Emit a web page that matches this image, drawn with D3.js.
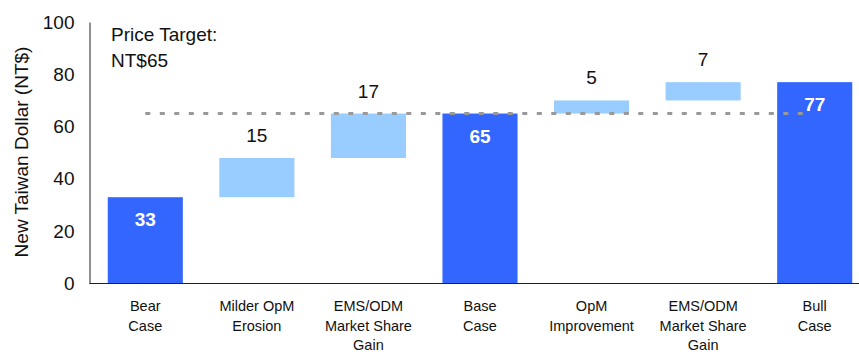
<!DOCTYPE html>
<html>
<head>
<meta charset="utf-8">
<script src="https://cdn.jsdelivr.net/npm/d3@7/dist/d3.min.js"></script>
<style>
  html, body { margin: 0; padding: 0; background: #fff; }
  svg { display: block; font-family: "Liberation Sans", Arial, sans-serif; }
</style>
</head>
<body>
<svg id="chart" width="859" height="352"></svg>
<script>
// Valuation bridge: bear case to bull case, NT$ per share
const categoryLines = [
  ["Bear", "Case"],
  ["Milder OpM", "Erosion"],
  ["EMS/ODM", "Market Share", "Gain"],
  ["Base", "Case"],
  ["OpM", "Improvement"],
  ["EMS/ODM", "Market Share", "Gain"],
  ["Bull", "Case"]
];
const values = [33, 15, 17, 65, 5, 7, 77];
const kinds = ["total", "step", "step", "total", "step", "step", "total"];
const yTicks = [0, 20, 40, 60, 80, 100];
const priceTarget = 65;
const annotationLines = ["Price Target:", "NT$65"];
const yTitle = "New Taiwan Dollar (NT$)";

const colors = { total: "#3366FF", step: "#99CCFF" };

// Running start/end for each bar of the bridge
let running = 0;
const bars = values.map((v, i) => {
  let y0, y1;
  if (kinds[i] === "total") { y0 = 0; y1 = v; running = v; }
  else { y0 = running; y1 = running + v; running = y1; }
  return { i, value: v, kind: kinds[i], y0, y1 };
});

const svg = d3.select("#chart");
const plotLeft = 89.5, plotRight = 870.5, plotTop = 22, plotBottom = 283.5;

const x = d3.scaleBand()
  .domain(d3.range(values.length))
  .range([plotLeft, plotRight])
  .paddingInner(0.327)
  .paddingOuter(0.1635);

const y = d3.scaleLinear().domain([0, 100]).range([plotBottom, plotTop]);

// Bars
svg.append("g").selectAll("rect")
  .data(bars)
  .join("rect")
  .attr("x", d => x(d.i))
  .attr("width", x.bandwidth())
  .attr("y", d => y(d.y1))
  .attr("height", d => y(d.y0) - y(d.y1))
  .attr("fill", d => colors[d.kind]);

// Price target reference line
svg.append("line")
  .attr("x1", x(0) + x.bandwidth() / 2)
  .attr("x2", x(values.length - 1) + x.bandwidth() * 0.37)
  .attr("y1", y(priceTarget))
  .attr("y2", y(priceTarget))
  .attr("stroke", "#999999")
  .attr("stroke-width", 3)
  .attr("stroke-dasharray", "5,9.5");

// Y axis
const yAxis = d3.axisLeft(y).tickValues(yTicks).tickSize(0).tickSizeOuter(0).tickPadding(15);
const gy = svg.append("g").attr("transform", `translate(${plotLeft},0)`).call(yAxis);
gy.select(".domain").attr("stroke", "#222").attr("stroke-width", 1);
gy.selectAll("text").attr("font-size", 19).attr("fill", "#111")
  .attr("font-family", "Liberation Sans, Arial, sans-serif");

// X axis baseline
svg.append("line")
  .attr("x1", plotLeft).attr("x2", 859)
  .attr("y1", plotBottom).attr("y2", plotBottom)
  .attr("stroke", "#222").attr("stroke-width", 1);

// Category labels
const catG = svg.append("g").selectAll("text")
  .data(categoryLines)
  .join("text")
  .attr("text-anchor", "middle")
  .attr("font-size", 14.5)
  .attr("fill", "#111");
catG.each(function(lines, i) {
  d3.select(this).selectAll("tspan")
    .data(lines)
    .join("tspan")
    .attr("x", x(i) + x.bandwidth() / 2)
    .attr("y", (d, k) => 311 + k * 19.5)
    .text(d => d);
});

// Value labels: above steps, inside totals
svg.append("g").selectAll("text")
  .data(bars)
  .join("text")
  .attr("text-anchor", "middle")
  .attr("x", d => x(d.i) + x.bandwidth() / 2)
  .attr("y", d => d.kind === "total" ? y(d.y1) + 29 : y(d.y1) - 16)
  .attr("font-size", 19)
  .attr("font-weight", d => d.kind === "total" ? "bold" : "normal")
  .attr("fill", d => d.kind === "total" ? "#fff" : "#111")
  .text(d => d.value);

// Price target annotation
svg.append("text")
  .attr("font-size", 19)
  .attr("fill", "#111")
  .selectAll("tspan")
  .data(annotationLines)
  .join("tspan")
  .attr("x", 111)
  .attr("y", (d, k) => 41 + k * 26)
  .text(d => d);

// Y axis title
svg.append("text")
  .attr("transform", `translate(28,152) rotate(-90)`)
  .attr("text-anchor", "middle")
  .attr("font-size", 19)
  .attr("fill", "#111")
  .text(yTitle);
</script>
</body>
</html>
